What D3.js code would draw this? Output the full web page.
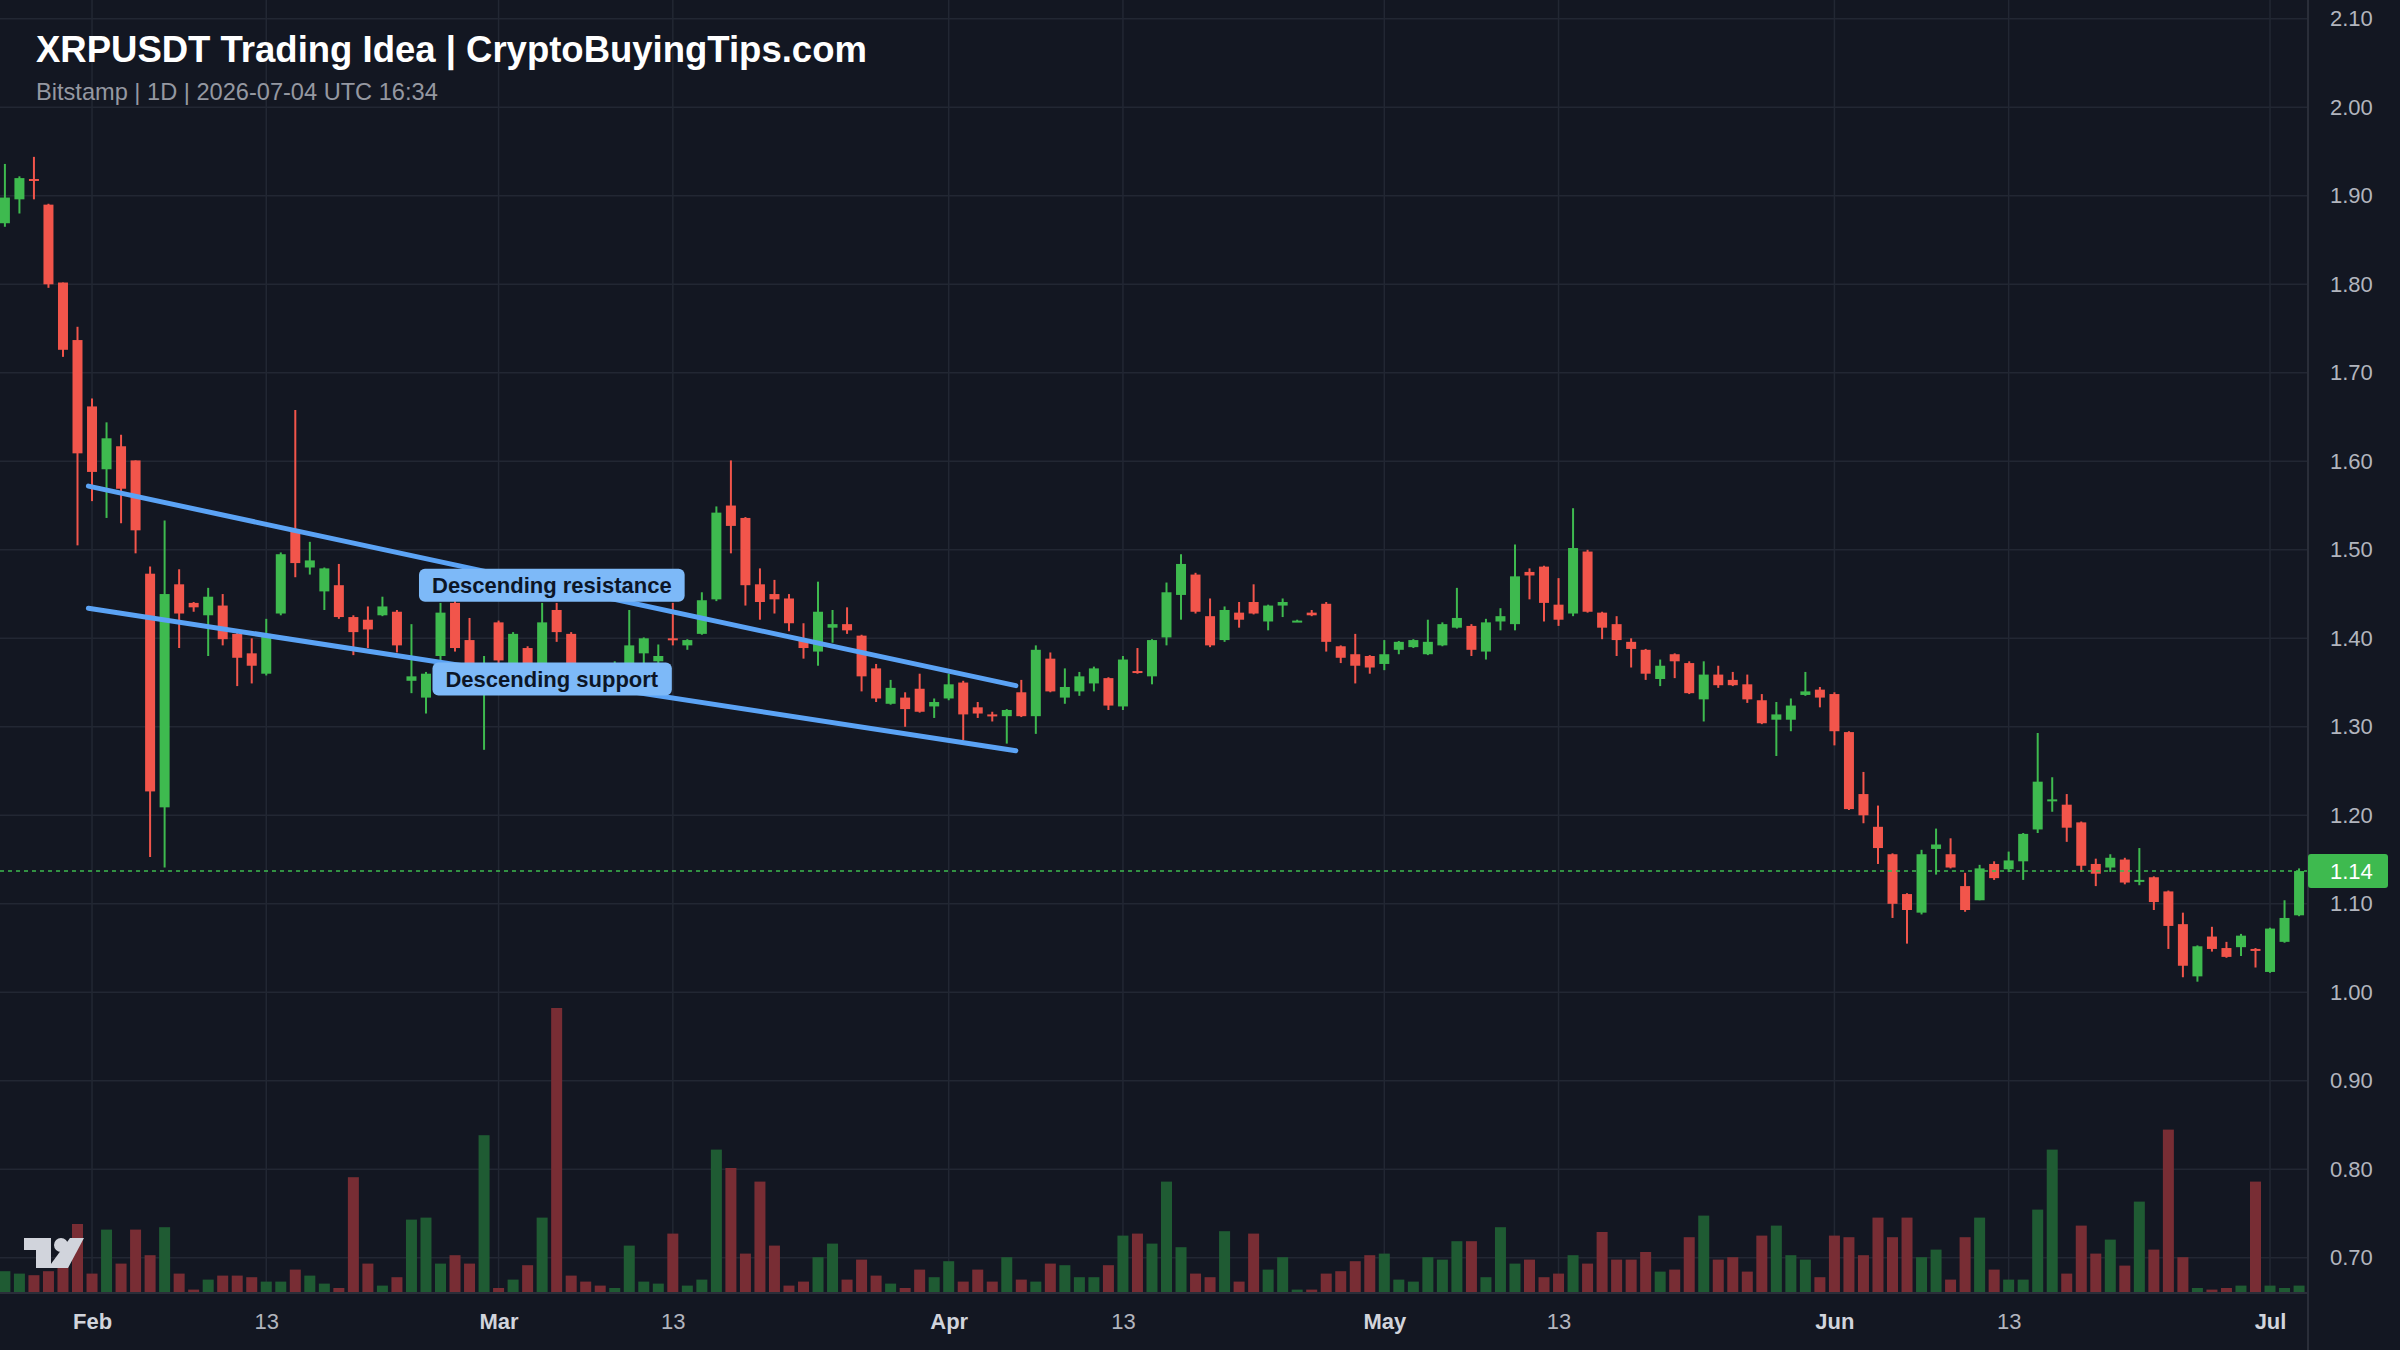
<!DOCTYPE html>
<html>
<head>
<meta charset="utf-8">
<script src="https://cdn.jsdelivr.net/npm/d3@7"></script>
<style>
  html, body { margin: 0; padding: 0; background: #131722; }
  svg { display: block; font-family: "Liberation Sans", Arial, Helvetica, sans-serif; }
</style>
</head>
<body>
<div id="chart"></div>
<script>
// Daily candles, first one on 2026-01-26
const firstDay = '2026-01-26';

const opens = [
  1.869, 1.896, 1.919, 1.890, 1.802, 1.737, 1.662, 1.591, 1.617, 1.601,
  1.473, 1.209, 1.461, 1.440, 1.426, 1.437, 1.405, 1.383, 1.360, 1.428,
  1.522, 1.480, 1.453, 1.460, 1.424, 1.421, 1.426, 1.430, 1.352, 1.333,
  1.380, 1.440, 1.398, 1.340, 1.418, 1.370, 1.389, 1.370, 1.432, 1.405,
  1.370, 1.355, 1.345, 1.372, 1.383, 1.374, 1.400, 1.392, 1.405, 1.444,
  1.550, 1.536, 1.461, 1.450, 1.445, 1.398, 1.385, 1.412, 1.416, 1.403,
  1.366, 1.326, 1.333, 1.343, 1.323, 1.332, 1.350, 1.322, 1.314, 1.312,
  1.339, 1.312, 1.377, 1.333, 1.340, 1.349, 1.355, 1.323, 1.363, 1.357,
  1.401, 1.449, 1.472, 1.425, 1.398, 1.429, 1.441, 1.419, 1.437, 1.420,
  1.429, 1.439, 1.391, 1.382, 1.380, 1.371, 1.387, 1.390, 1.382, 1.392,
  1.412, 1.414, 1.385, 1.419, 1.416, 1.475, 1.481, 1.438, 1.428, 1.498,
  1.429, 1.416, 1.396, 1.387, 1.354, 1.382, 1.372, 1.331, 1.359, 1.353,
  1.348, 1.330, 1.308, 1.308, 1.336, 1.342, 1.337, 1.294, 1.224, 1.187,
  1.156, 1.111, 1.090, 1.162, 1.156, 1.120, 1.104, 1.145, 1.139, 1.148,
  1.184, 1.216, 1.212, 1.192, 1.145, 1.141, 1.150, 1.125, 1.130, 1.114,
  1.077, 1.018, 1.063, 1.050, 1.051, 1.049, 1.023, 1.057, 1.087
];
const highs = [
  1.936, 1.922, 1.944, 1.891, 1.802, 1.752, 1.671, 1.644, 1.630, 1.601,
  1.481, 1.533, 1.478, 1.441, 1.457, 1.450, 1.407, 1.400, 1.422, 1.497,
  1.658, 1.509, 1.480, 1.484, 1.426, 1.436, 1.447, 1.432, 1.416, 1.362,
  1.440, 1.450, 1.423, 1.380, 1.420, 1.407, 1.391, 1.440, 1.440, 1.407,
  1.372, 1.360, 1.374, 1.432, 1.401, 1.393, 1.440, 1.399, 1.452, 1.549,
  1.601, 1.537, 1.479, 1.466, 1.450, 1.417, 1.464, 1.432, 1.435, 1.404,
  1.371, 1.353, 1.339, 1.360, 1.332, 1.360, 1.352, 1.328, 1.317, 1.320,
  1.353, 1.392, 1.384, 1.366, 1.362, 1.368, 1.356, 1.380, 1.389, 1.399,
  1.463, 1.495, 1.474, 1.445, 1.436, 1.441, 1.461, 1.438, 1.445, 1.421,
  1.432, 1.441, 1.392, 1.405, 1.381, 1.398, 1.397, 1.399, 1.421, 1.418,
  1.457, 1.416, 1.422, 1.434, 1.506, 1.479, 1.482, 1.468, 1.547, 1.500,
  1.430, 1.425, 1.400, 1.388, 1.376, 1.383, 1.374, 1.374, 1.369, 1.362,
  1.359, 1.337, 1.328, 1.332, 1.362, 1.345, 1.339, 1.295, 1.249, 1.211,
  1.157, 1.112, 1.161, 1.185, 1.174, 1.135, 1.144, 1.148, 1.159, 1.180,
  1.293, 1.243, 1.224, 1.193, 1.151, 1.156, 1.152, 1.163, 1.131, 1.115,
  1.090, 1.053, 1.074, 1.057, 1.066, 1.050, 1.073, 1.104, 1.140
];
const lows = [
  1.865, 1.880, 1.896, 1.796, 1.718, 1.505, 1.555, 1.536, 1.530, 1.496,
  1.153, 1.141, 1.389, 1.430, 1.380, 1.392, 1.346, 1.349, 1.358, 1.426,
  1.469, 1.472, 1.432, 1.422, 1.381, 1.389, 1.425, 1.384, 1.338, 1.315,
  1.370, 1.385, 1.350, 1.274, 1.365, 1.360, 1.360, 1.365, 1.396, 1.355,
  1.345, 1.338, 1.340, 1.368, 1.372, 1.370, 1.392, 1.387, 1.404, 1.442,
  1.496, 1.437, 1.421, 1.428, 1.408, 1.377, 1.369, 1.395, 1.405, 1.340,
  1.328, 1.325, 1.300, 1.316, 1.310, 1.330, 1.285, 1.310, 1.306, 1.281,
  1.311, 1.292, 1.339, 1.326, 1.335, 1.340, 1.319, 1.319, 1.360, 1.348,
  1.392, 1.421, 1.428, 1.390, 1.396, 1.412, 1.427, 1.409, 1.424, 1.419,
  1.425, 1.385, 1.372, 1.349, 1.360, 1.364, 1.382, 1.389, 1.381, 1.391,
  1.411, 1.380, 1.376, 1.409, 1.409, 1.444, 1.419, 1.414, 1.425, 1.429,
  1.399, 1.380, 1.367, 1.353, 1.346, 1.355, 1.337, 1.306, 1.344, 1.346,
  1.327, 1.303, 1.267, 1.295, 1.335, 1.322, 1.279, 1.206, 1.191, 1.145,
  1.084, 1.055, 1.088, 1.133, 1.140, 1.091, 1.104, 1.127, 1.136, 1.127,
  1.180, 1.204, 1.170, 1.136, 1.120, 1.136, 1.122, 1.121, 1.093, 1.049,
  1.017, 1.012, 1.046, 1.039, 1.041, 1.028, 1.022, 1.056, 1.086
];
const closes = [
  1.898, 1.920, 1.917, 1.800, 1.726, 1.609, 1.588, 1.626, 1.569, 1.522,
  1.227, 1.450, 1.428, 1.435, 1.447, 1.399, 1.378, 1.369, 1.405, 1.495,
  1.485, 1.488, 1.479, 1.424, 1.407, 1.410, 1.436, 1.392, 1.357, 1.360,
  1.429, 1.389, 1.360, 1.370, 1.375, 1.405, 1.370, 1.418, 1.407, 1.365,
  1.355, 1.345, 1.372, 1.392, 1.400, 1.380, 1.398, 1.398, 1.443, 1.542,
  1.527, 1.460, 1.441, 1.444, 1.417, 1.389, 1.430, 1.416, 1.409, 1.357,
  1.332, 1.344, 1.320, 1.317, 1.328, 1.348, 1.314, 1.315, 1.312, 1.319,
  1.312, 1.387, 1.340, 1.345, 1.357, 1.366, 1.324, 1.376, 1.361, 1.398,
  1.452, 1.484, 1.430, 1.392, 1.432, 1.421, 1.428, 1.437, 1.441, 1.420,
  1.426, 1.396, 1.378, 1.369, 1.367, 1.382, 1.396, 1.398, 1.396, 1.416,
  1.423, 1.387, 1.418, 1.425, 1.470, 1.471, 1.440, 1.421, 1.502, 1.430,
  1.412, 1.398, 1.388, 1.360, 1.369, 1.374, 1.338, 1.359, 1.347, 1.347,
  1.331, 1.304, 1.314, 1.324, 1.340, 1.333, 1.295, 1.207, 1.200, 1.163,
  1.100, 1.093, 1.156, 1.167, 1.141, 1.093, 1.140, 1.129, 1.149, 1.179,
  1.238, 1.218, 1.186, 1.143, 1.134, 1.152, 1.124, 1.127, 1.102, 1.075,
  1.030, 1.052, 1.049, 1.040, 1.064, 1.048, 1.072, 1.084, 1.137
];
// volume in millions XRP
const volumes = [
  10.4, 9.2, 8.4, 10.4, 15.0, 34.0, 9.2, 31.2, 14.2, 31.2,
  18.4, 32.4, 9.2, 1.2, 6.2, 8.2, 8.2, 7.4, 5.2, 5.2,
  11.2, 8.2, 4.2, 2.0, 57.4, 14.2, 3.2, 7.4, 36.2, 37.2,
  14.2, 18.4, 14.2, 78.4, 2.0, 6.2, 13.4, 37.2, 142.0, 8.2,
  5.2, 3.2, 2.0, 23.2, 5.2, 4.2, 29.2, 3.2, 6.2, 71.2,
  62.0, 19.2, 55.2, 23.2, 3.2, 5.2, 17.4, 24.2, 6.2, 16.2,
  8.2, 4.2, 2.0, 11.2, 7.4, 15.4, 5.2, 11.2, 5.2, 17.4,
  6.2, 5.2, 14.2, 13.4, 7.4, 7.4, 13.4, 28.2, 29.2, 24.2,
  55.2, 22.4, 9.2, 7.4, 30.4, 5.2, 29.2, 11.2, 17.4, 1.2,
  1.2, 9.2, 10.4, 15.4, 18.4, 19.2, 6.2, 5.2, 17.4, 16.2,
  25.4, 25.4, 7.4, 32.4, 14.2, 16.2, 7.4, 9.2, 18.4, 14.2,
  30.0, 16.2, 16.2, 20.0, 10.2, 11.2, 27.4, 38.2, 16.2, 17.4,
  10.2, 28.2, 33.2, 18.4, 16.2, 7.4, 28.2, 27.4, 18.4, 37.2,
  27.4, 37.2, 17.4, 21.2, 6.2, 27.4, 37.2, 11.2, 6.2, 6.2,
  41.2, 71.2, 9.2, 33.2, 19.2, 26.2, 13.2, 45.2, 21.2, 81.2,
  17.4, 2.0, 1.2, 2.0, 3.2, 55.2, 3.2, 2.0, 3.2
];

const priceTicks = [0.7, 0.8, 0.9, 1.0, 1.1, 1.2, 1.3, 1.4, 1.5, 1.6, 1.7, 1.8, 1.9, 2.0, 2.1];
const timeTicks = ['2026-02-01', '2026-02-13', '2026-03-01', '2026-03-13', '2026-04-01', '2026-04-13',
                   '2026-05-01', '2026-05-13', '2026-06-01', '2026-06-13', '2026-07-01'];
const timeTickLabels = ['Feb', '13', 'Mar', '13', 'Apr', '13', 'May', '13', 'Jun', '13', 'Jul'];

// drawn trend lines: [date, price] end points
const resistanceLine = [['2026-01-31T18:00Z', 1.572], ['2026-04-05T15:00Z', 1.3465]];
const supportLine = [['2026-01-31T18:00Z', 1.434], ['2026-04-05T15:00Z', 1.273]];
const lineLabelTexts = ['Descending resistance', 'Descending support'];
const lineLabelDates = ['2026-03-04T16:00Z', '2026-03-04T16:00Z'];
const lineLabelPrices = [1.460, 1.354];

const title = 'XRPUSDT Trading Idea | CryptoBuyingTips.com';
const subtitle = 'Bitstamp | 1D | 2026-07-04 UTC 16:34';

// Layout
const width = 2400;
const height = 1350;
const plotRight = 2308;
const plotBottom = 1293;
const green = '#3eba4f';
const red = '#f2554b';
const volGreen = '#1f5b33';
const volRed = '#782d34';
const gridColor = '#222733';

const start = new Date(firstDay + 'T00:00Z');
const candles = opens.map((o, i) => ({
  date: d3.utcDay.offset(start, i),
  open: o, high: highs[i], low: lows[i], close: closes[i], volume: volumes[i],
}));
const lastDate = candles[candles.length - 1].date;

const x = d3.scaleUtc().domain([start, lastDate]).range([4.9, 4.9 + 14.52 * (candles.length - 1)]);
const y = d3.scaleLinear().domain([1, 2]).range([992.3, 107.3]);
const yVol = d3.scaleLinear().domain([0, 150]).range([1292, 992]);

const svg = d3.select('#chart').append('svg')
  .attr('width', width).attr('height', height)
  .attr('viewBox', [0, 0, width, height]);

svg.append('rect').attr('width', width).attr('height', height).attr('fill', '#131722');

// Grid
const grid = svg.append('g');
grid.selectAll('line.h').data(priceTicks).join('line')
  .attr('x1', 0).attr('x2', plotRight)
  .attr('y1', (d) => y(d)).attr('y2', (d) => y(d))
  .attr('stroke', gridColor).attr('stroke-width', 1.5);
grid.selectAll('line.v').data(timeTicks).join('line')
  .attr('x1', (d) => x(new Date(d + 'T00:00Z'))).attr('x2', (d) => x(new Date(d + 'T00:00Z')))
  .attr('y1', 0).attr('y2', plotBottom)
  .attr('stroke', gridColor).attr('stroke-width', 1.5);

// Volume
svg.append('g').selectAll('rect').data(candles).join('rect')
  .attr('x', (d) => x(d.date) - 5.5)
  .attr('width', 11)
  .attr('y', (d) => yVol(d.volume))
  .attr('height', (d) => yVol(0) - yVol(d.volume))
  .attr('fill', (d) => (d.close >= d.open ? volGreen : volRed));

// Candles
const candle = svg.append('g').selectAll('g').data(candles).join('g')
  .attr('fill', (d) => (d.close >= d.open ? green : red))
  .attr('stroke', (d) => (d.close >= d.open ? green : red));
candle.append('line')
  .attr('x1', (d) => x(d.date)).attr('x2', (d) => x(d.date))
  .attr('y1', (d) => y(d.high)).attr('y2', (d) => y(d.low))
  .attr('stroke-width', 2);
candle.append('rect')
  .attr('stroke', 'none')
  .attr('x', (d) => x(d.date) - 5)
  .attr('width', 10)
  .attr('y', (d) => y(Math.max(d.open, d.close)))
  .attr('height', (d) => Math.max(2, Math.abs(y(d.open) - y(d.close))));

// Last price line
const lastClose = closes[closes.length - 1];
svg.append('line')
  .attr('x1', 0).attr('x2', plotRight)
  .attr('y1', y(lastClose)).attr('y2', y(lastClose))
  .attr('stroke', green).attr('stroke-width', 1.6)
  .attr('stroke-dasharray', '4,4');

// Trend lines
const line = d3.line().x((d) => x(new Date(d[0]))).y((d) => y(d[1]));
svg.append('g').selectAll('path').data([resistanceLine, supportLine]).join('path')
  .attr('d', line)
  .attr('fill', 'none')
  .attr('stroke', '#5ba3f5')
  .attr('stroke-width', 5)
  .attr('stroke-linecap', 'round');

// Line labels
const lbl = svg.append('g').selectAll('g').data(lineLabelTexts).join('g')
  .attr('transform', (d, i) => `translate(${x(new Date(lineLabelDates[i]))},${y(lineLabelPrices[i])})`);
lbl.append('text')
  .attr('text-anchor', 'middle')
  .attr('dy', '0.36em')
  .attr('font-size', 22)
  .attr('font-weight', 'bold')
  .attr('fill', '#0c1627')
  .text((d) => d);
lbl.each(function () {
  const g = d3.select(this);
  const b = g.select('text').node().getBBox();
  g.insert('rect', 'text')
    .attr('x', b.x - 13).attr('y', -16.5)
    .attr('width', b.width + 26).attr('height', 33)
    .attr('rx', 6)
    .attr('fill', '#7db9f8');
});

// Axes borders
svg.append('line')
  .attr('x1', plotRight).attr('x2', plotRight).attr('y1', 0).attr('y2', height)
  .attr('stroke', '#2a2e39').attr('stroke-width', 2);
svg.append('line')
  .attr('x1', 0).attr('x2', plotRight).attr('y1', plotBottom).attr('y2', plotBottom)
  .attr('stroke', '#2a2e39').attr('stroke-width', 2);

// Price axis
const yAxis = svg.append('g')
  .attr('transform', `translate(${plotRight},0)`)
  .call(d3.axisRight(y).tickValues(priceTicks).tickFormat(d3.format('.2f')).tickSize(0).tickPadding(22));
yAxis.select('.domain').remove();
yAxis.selectAll('text')
  .attr('font-size', 22)
  .attr('font-family', '"Liberation Sans", Arial, sans-serif')
  .attr('fill', '#b2b5be');

// Last price tag
svg.append('rect')
  .attr('x', plotRight).attr('y', y(lastClose) - 17)
  .attr('width', 80).attr('height', 34).attr('rx', 3)
  .attr('fill', green);
svg.append('text')
  .attr('x', plotRight + 22).attr('y', y(lastClose))
  .attr('dy', '0.35em')
  .attr('font-size', 22)
  .attr('fill', '#ffffff')
  .text(d3.format('.2f')(lastClose));

// Time axis
const xAxis = svg.append('g')
  .attr('transform', `translate(0,${plotBottom})`)
  .call(d3.axisBottom(x)
    .tickValues(timeTicks.map((d) => new Date(d + 'T00:00Z')))
    .tickFormat((d, i) => timeTickLabels[i])
    .tickSize(0).tickPadding(20));
xAxis.select('.domain').remove();
xAxis.selectAll('text')
  .attr('font-size', 22)
  .attr('font-family', '"Liberation Sans", Arial, sans-serif')
  .attr('font-weight', (d, i) => (isNaN(+timeTickLabels[i]) ? 'bold' : 'normal'))
  .attr('fill', (d, i) => (isNaN(+timeTickLabels[i]) ? '#d1d4dc' : '#b2b5be'));

// Title
svg.append('text')
  .attr('x', 36).attr('y', 62)
  .attr('font-size', 36.5).attr('font-weight', 'bold')
  .attr('fill', '#ffffff')
  .text(title);
svg.append('text')
  .attr('x', 36).attr('y', 100)
  .attr('font-size', 23.6)
  .attr('fill', '#9598a1')
  .text(subtitle);

// TradingView style logo
const logo = svg.append('g').attr('fill', '#d1d4dc');
logo.append('rect').attr('x', 24).attr('y', 1238).attr('width', 27).attr('height', 12);
logo.append('rect').attr('x', 36).attr('y', 1238).attr('width', 15).attr('height', 30);
logo.append('circle').attr('cx', 61).attr('cy', 1245).attr('r', 7);
logo.append('path').attr('d', 'M48,1268 L68,1268 L84,1238 L70,1238 Z');
</script>
</body>
</html>
